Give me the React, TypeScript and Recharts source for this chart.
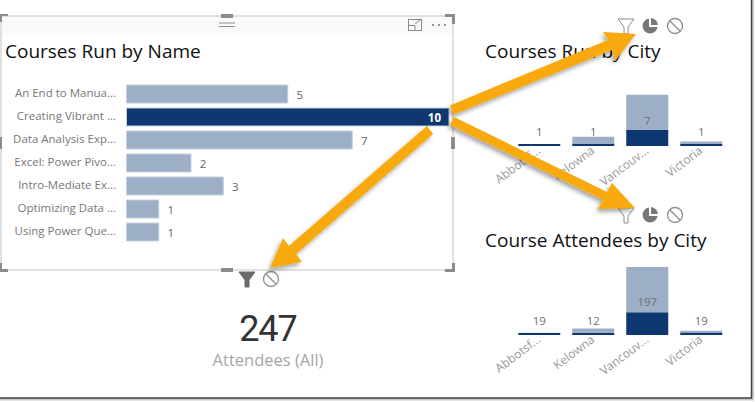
import { BarChart, Bar, XAxis, YAxis, Cell, LabelList } from 'recharts'

const FONT = "'Open Sans', sans-serif"
const LIGHT = '#9DAFC6'
const DARK = '#0D376E'
const LABEL = '#777777'

const courseNames = [
  'An End to Manua...',
  'Creating Vibrant ...',
  'Data Analysis Exp...',
  'Excel: Power Pivo...',
  'Intro-Mediate Ex...',
  'Optimizing Data ...',
  'Using Power Que...',
]
const courseRuns = [5, 10, 7, 2, 3, 1, 1]
const selectedCourse = 'Creating Vibrant ...'

const cities = ['Abbotsf...', 'Kelowna', 'Vancouv...', 'Victoria']
// bar heights as drawn, the printed totals do not line up with them in the screenshot
const runsHighlighted = [0.27, 0.27, 2.2, 0.27]
const runsRest = [0.01, 1, 4.8, 0.33]
const runsLabels = [1, 1, 7, 1]
const attendeesHighlighted = [6, 6, 66, 7]
const attendeesRest = [0.2, 13, 131, 5]
const attendeesLabels = [19, 12, 197, 19]

const courseData = courseNames.map((name, i) => ({ name, runs: courseRuns[i] }))
const runsData = cities.map((city, i) => ({
  city,
  highlighted: runsHighlighted[i],
  rest: runsRest[i],
  label: runsLabels[i],
}))
const attendeesData = cities.map((city, i) => ({
  city,
  highlighted: attendeesHighlighted[i],
  rest: attendeesRest[i],
  label: attendeesLabels[i],
}))

function CourseLabel(props: any) {
  const { x, y, width, height, value } = props
  const inside = value === 10
  return (
    <text
      x={inside ? x + width - 8 : x + width + 12}
      y={y + height / 2 + 4.5}
      textAnchor={inside ? 'end' : 'middle'}
      fontSize={11.5}
      fontWeight={inside ? 700 : 400}
      fontFamily={FONT}
      fill={inside ? '#ffffff' : '#666666'}
    >
      {value}
    </text>
  )
}

function CourseTick(props: any) {
  const { x, y, payload } = props
  return (
    <text x={x - 2.5} y={y + 3} textAnchor="end" fontSize={11.5} fontFamily={FONT} fill={LABEL}>
      {payload.value}
    </text>
  )
}

function CityTick(props: any) {
  const { x, y, payload } = props
  return (
    <text
      x={x}
      y={y - 3}
      dy={4}
      transform={`rotate(-37 ${x} ${y - 3})`}
      textAnchor="end"
      fontSize={12}
      fontFamily={FONT}
      fill="#999999"
    >
      {payload.value}
    </text>
  )
}

function CityChart({ data, left, top, plotTop, plotHeight, max, peak }: any) {
  const baseline = plotTop + plotHeight
  const renderLabel = (props: any) => {
    const { x, y, width, value } = props
    const ly = value === peak ? (y + baseline) / 2 : baseline - 15
    return (
      <text
        x={x + width / 2}
        y={ly + 4.5}
        textAnchor="middle"
        fontSize={11.5}
        fontFamily={FONT}
        fill="#6f6f6f"
      >
        {value}
      </text>
    )
  }
  return (
    <div style={{ position: 'absolute', left, top }}>
      <BarChart
        width={256}
        height={plotTop + plotHeight + 50}
        data={data}
        margin={{ top: plotTop, right: 10, bottom: 0, left: 30 }}
        barCategoryGap={6.25}
      >
        <XAxis
          dataKey="city"
          interval={0}
          axisLine={false}
          tickLine={false}
          height={50}
          tick={<CityTick />}
          tickMargin={0}
        />
        <YAxis hide domain={[0, max]} />
        <Bar dataKey="highlighted" stackId="a" fill={DARK} isAnimationActive={false} />
        <Bar dataKey="rest" stackId="a" fill={LIGHT} isAnimationActive={false}>
          <LabelList dataKey="label" content={renderLabel} />
        </Bar>
      </BarChart>
    </div>
  )
}

function FilterIcon({ x, y, solid }: { x: number; y: number; solid?: boolean }) {
  return (
    <path
      d={`M${x - 8} ${y - 7}h16l-6 8v7h-4v-7z`}
      fill={solid ? '#6b6b6b' : '#ffffff'}
      stroke={solid ? '#6b6b6b' : '#8a8a8a'}
      strokeWidth={1}
    />
  )
}

function BanIcon({ x, y }: { x: number; y: number }) {
  return (
    <g fill="none" stroke="#8f8f8f" strokeWidth={1.3}>
      <circle cx={x} cy={y} r={7.5} />
      <path d={`M${x - 5.3} ${y - 5.3}L${x + 5.3} ${y + 5.3}`} />
    </g>
  )
}

function PieIcon({ x, y }: { x: number; y: number }) {
  return (
    <g fill="#777777">
      <path d={`M${x - 1} ${y - 7.5}A7.5 7.5 0 1 0 ${x + 7.5} ${y + 1}H${x - 1}z`} />
      <path d={`M${x + 1} ${y - 8}A7.5 7.5 0 0 1 ${x + 8} ${y - 1}H${x + 1}z`} />
    </g>
  )
}

function Handle({ x, y, w, h }: { x: number; y: number; w: number; h: number }) {
  return <rect x={x} y={y} width={w} height={h} fill="#8c8c8c" />
}

function Overlay() {
  return (
    <svg width={755} height={402} style={{ position: 'absolute', left: 0, top: 0 }}>
      <defs>
        <filter id="arrowShadow" x="-10%" y="-10%" width="120%" height="120%">
          <feDropShadow dx={-2} dy={3} stdDeviation={2} floodColor="#000000" floodOpacity={0.35} />
        </filter>
      </defs>

      {/* screenshot edge */}
      <path d="M752.5 0V399H0" fill="none" stroke="#c9c9c9" strokeWidth={3} />
      <path d="M751.5 0V398H0" fill="none" stroke="#444444" strokeWidth={1.5} />

      {/* visual frame */}
      <rect x={1} y={16} width={452} height={254} fill="none" stroke="#c4c4c4" strokeWidth={1} />
      <Handle x={0} y={14} w={8} h={2} />
      <Handle x={0} y={14} w={2} h={8} />
      <Handle x={445} y={14} w={10} h={3} />
      <Handle x={452} y={14} w={3} h={10} />
      <Handle x={0} y={269} w={8} h={3} />
      <Handle x={0} y={263} w={2} h={8} />
      <Handle x={445} y={269} w={10} h={3} />
      <Handle x={452} y={263} w={3} h={9} />
      <Handle x={221} y={14} w={12} h={4} />
      <Handle x={221} y={268} w={12} h={4} />
      <Handle x={0} y={137} w={2} h={12} />
      <Handle x={451} y={137} w={4} h={12} />
      <path d="M219 23H235M219 26.5H235" stroke="#8f8f8f" strokeWidth={1} />
      <g fill="none" stroke="#8a8a8a" strokeWidth={1}>
        <rect x={408.5} y={19.5} width={13} height={11} />
        <path d="M408.5 25.5H415V30.5M415 24L421 19.5" />
      </g>
      <g fill="#777777">
        <circle cx={433} cy={25} r={1} />
        <circle cx={439} cy={25} r={1} />
        <circle cx={445} cy={25} r={1} />
      </g>

      {/* interaction icons */}
      <FilterIcon x={626} y={26} />
      <PieIcon x={650} y={26} />
      <BanIcon x={675} y={26} />
      <FilterIcon x={626} y={215} />
      <PieIcon x={650} y={215} />
      <BanIcon x={675} y={215} />
      <FilterIcon x={247} y={279} solid />
      <BanIcon x={271} y={279} />

      {/* callout arrows */}
      <g fill="#F7A90B" filter="url(#arrowShadow)">
        <path d="M636 34L615 61L612 50L454 114.6L450 105.4L608 40L603 32z" />
        <path d="M635 208L598 209L603 200L450 125L454 117L607 192L612 183z" />
        <path d="M270 268L283 238L289 246L427 126L433 134L296 254L302 262z" />
      </g>
    </svg>
  )
}

export default function App() {
  return (
    <div style={{ position: 'absolute', left: 0, top: 0, width: 755, height: 402, background: '#ffffff', overflow: 'hidden' }}>
      <div style={{ position: 'absolute', left: 2, top: 17, width: 451, height: 18, background: '#f9f9f9' }} />

      <div style={{ position: 'absolute', left: 0, top: 0 }}>
        <BarChart
          layout="vertical"
          width={460}
          height={270}
          data={courseData}
          margin={{ top: 82.5, right: 11, bottom: 26.5, left: 0 }}
          barCategoryGap={2.5}
        >
          <XAxis type="number" hide domain={[0, 10]} />
          <YAxis
            type="category"
            dataKey="name"
            width={126.5}
            interval={0}
            axisLine={false}
            tickLine={false}
            tick={<CourseTick />}
          />
          <Bar dataKey="runs" fill={LIGHT} stroke="#c3cfdd" strokeWidth={1} isAnimationActive={false}>
            {courseData.map((d) => (
              <Cell key={d.name} fill={d.name === selectedCourse ? DARK : LIGHT} />
            ))}
            <LabelList dataKey="runs" content={<CourseLabel />} />
          </Bar>
        </BarChart>
      </div>

      <CityChart data={runsData} left={481.5} top={50} plotTop={44.7} plotHeight={51.3} max={7} peak={7} />
      <CityChart data={attendeesData} left={481.5} top={220} plotTop={47} plotHeight={68} max={197} peak={197} />

      <div style={titleStyle(5, 38)}>Courses Run by Name</div>
      <div style={titleStyle(485, 38)}>Courses Run by City</div>
      <div style={titleStyle(485, 227)}>Course Attendees by City</div>

      <div style={{ position: 'absolute', left: 208, width: 120, top: 306, textAlign: 'center', fontFamily: 'Roboto, sans-serif', fontSize: 36, lineHeight: '46px', letterSpacing: -1, fontWeight: 400, color: '#333333' }}>
        247
      </div>
      <div style={{ position: 'absolute', left: 198, width: 140, top: 349, textAlign: 'center', fontFamily: FONT, fontSize: 16.5, lineHeight: '22px', color: '#a6a6a6' }}>
        Attendees (All)
      </div>

      <Overlay />
    </div>
  )
}

function titleStyle(left: number, top: number): any {
  return { position: 'absolute', left, top, fontFamily: FONT, fontSize: 19, lineHeight: '26px', color: '#111111', whiteSpace: 'nowrap' }
}
